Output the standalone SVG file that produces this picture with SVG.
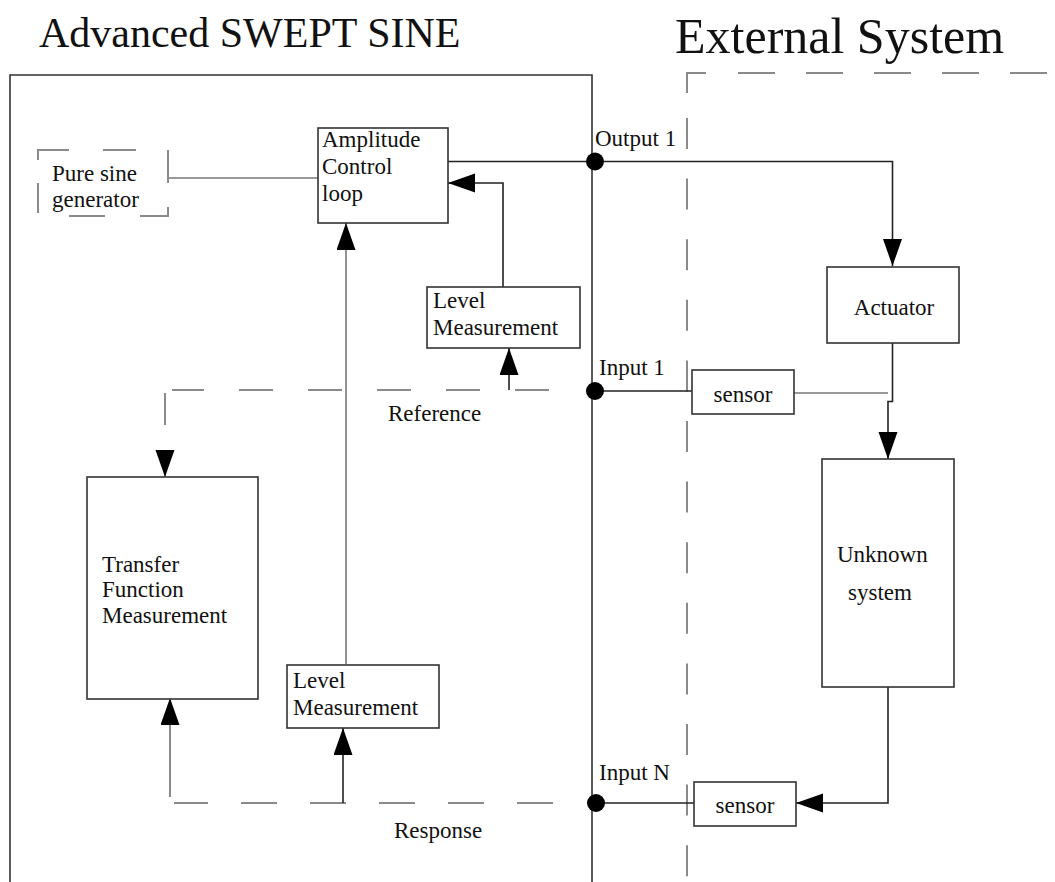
<svg xmlns="http://www.w3.org/2000/svg" width="1055" height="882" viewBox="0 0 1055 882">
<style>
text{font-family:"Liberation Serif","Times New Roman",serif;fill:#111;font-size:23px}
.title{font-size:42px}
.title2{font-size:50px}
.box{fill:#fff;stroke:#333;stroke-width:1.6}
.frame{fill:none;stroke:#333;stroke-width:1.6}
.ln{fill:none;stroke:#222;stroke-width:1.6}
.gl{fill:none;stroke:#777;stroke-width:1.6}
.dl{fill:none;stroke:#8a8a8a;stroke-width:2}
.mid{text-anchor:middle}
</style>
<defs>
<marker id="ah" markerUnits="userSpaceOnUse" markerWidth="28" markerHeight="20" refX="27" refY="9.5" orient="auto">
<path d="M0,0 L27,9.5 L0,19 Z" fill="#000"/>
</marker>
</defs>

<g id="titles">
<text class="title" x="39" y="47">Advanced SWEPT SINE</text>
<text class="title2" x="675" y="53">External System</text>
</g>

<g id="frames">
<path class="frame" d="M10,882 V75 H592 V882"/>
<path class="dl" d="M687,93 V73 H706"/>
<path class="dl" d="M738,73 H1050" stroke-dasharray="37 31"/>
<path class="dl" d="M687,118 V882" stroke-dasharray="31 29.6"/>
</g>

<g id="connectors">
<path class="gl" d="M168,178 H318"/>
<path class="ln" d="M448,161.5 H892.5 V266" marker-end="url(#ah)"/>
<path class="ln" d="M503,287 V183 H448" marker-end="url(#ah)"/>
<path class="gl" d="M346,664 V223" marker-end="url(#ah)"/>
<path class="dl" d="M549,390 H172" stroke-dasharray="34 35"/>
<path class="dl" d="M165,393 V425"/>
<path class="dl" d="M165,450 V477" stroke="none" marker-end="url(#ah)"/>
<path class="ln" d="M509,390 V348" marker-end="url(#ah)"/>
<path class="ln" d="M595,391 H692"/>
<path class="gl" d="M794,393 H888"/>
<path class="ln" d="M892.5,343 V401.5 H888 V459" marker-end="url(#ah)"/>
<path class="ln" d="M888,687 V803 H796" marker-end="url(#ah)"/>
<path class="ln" d="M596,803 H694"/>
<path class="dl" d="M553,803 H174" stroke-dasharray="36 33"/>
<path class="dl" d="M170,797 V724"/>
<path class="dl" d="M170,720 V698" stroke="none" marker-end="url(#ah)"/>
<path class="ln" d="M343,803 V728" marker-end="url(#ah)"/>
<circle cx="595" cy="161.5" r="9" fill="#000"/>
<circle cx="595" cy="391" r="9" fill="#000"/>
<circle cx="596" cy="803" r="9" fill="#000"/>
</g>

<g id="labels">
<text x="595" y="146">Output 1</text>
<text x="599" y="375">Input 1</text>
<text x="599" y="780">Input N</text>
<text x="388" y="421">Reference</text>
<text x="394" y="838">Response</text>
</g>

<g id="pure-sine">
<path d="M38,150 H168 V216 H38 Z" fill="none" stroke="#8a8a8a" stroke-width="2" stroke-dasharray="31 34 33 32 33 24 37 35 36 34 30 23 10"/>
<text x="52" y="181">Pure sine</text>
<text x="52" y="207">generator</text>
</g>

<g id="amplitude-control">
<rect class="box" x="318" y="128" width="130" height="95"/>
<text x="322" y="147">Amplitude</text>
<text x="322" y="174">Control</text>
<text x="322" y="201">loop</text>
</g>

<g id="level-ref">
<rect class="box" x="427" y="287" width="153" height="61"/>
<text x="433" y="308">Level</text>
<text x="433" y="335">Measurement</text>
</g>

<g id="transfer-function">
<rect class="box" x="87" y="477" width="171" height="222"/>
<text x="102" y="572">Transfer</text>
<text x="102" y="597">Function</text>
<text x="102" y="623">Measurement</text>
</g>

<g id="level-resp">
<rect class="box" x="287" y="665" width="152" height="63"/>
<text x="293" y="688">Level</text>
<text x="293" y="715">Measurement</text>
</g>

<g id="actuator">
<rect class="box" x="827" y="267" width="132" height="76"/>
<text class="mid" x="894" y="315">Actuator</text>
</g>

<g id="sensor-1">
<rect class="box" x="692" y="370" width="102" height="44"/>
<text class="mid" x="743" y="402">sensor</text>
</g>

<g id="unknown-system">
<rect class="box" x="822" y="459" width="132" height="228"/>
<text x="837" y="562">Unknown</text>
<text x="848" y="600">system</text>
</g>

<g id="sensor-n">
<rect class="box" x="694" y="782" width="102" height="44"/>
<text class="mid" x="745" y="813">sensor</text>
</g>
</svg>
